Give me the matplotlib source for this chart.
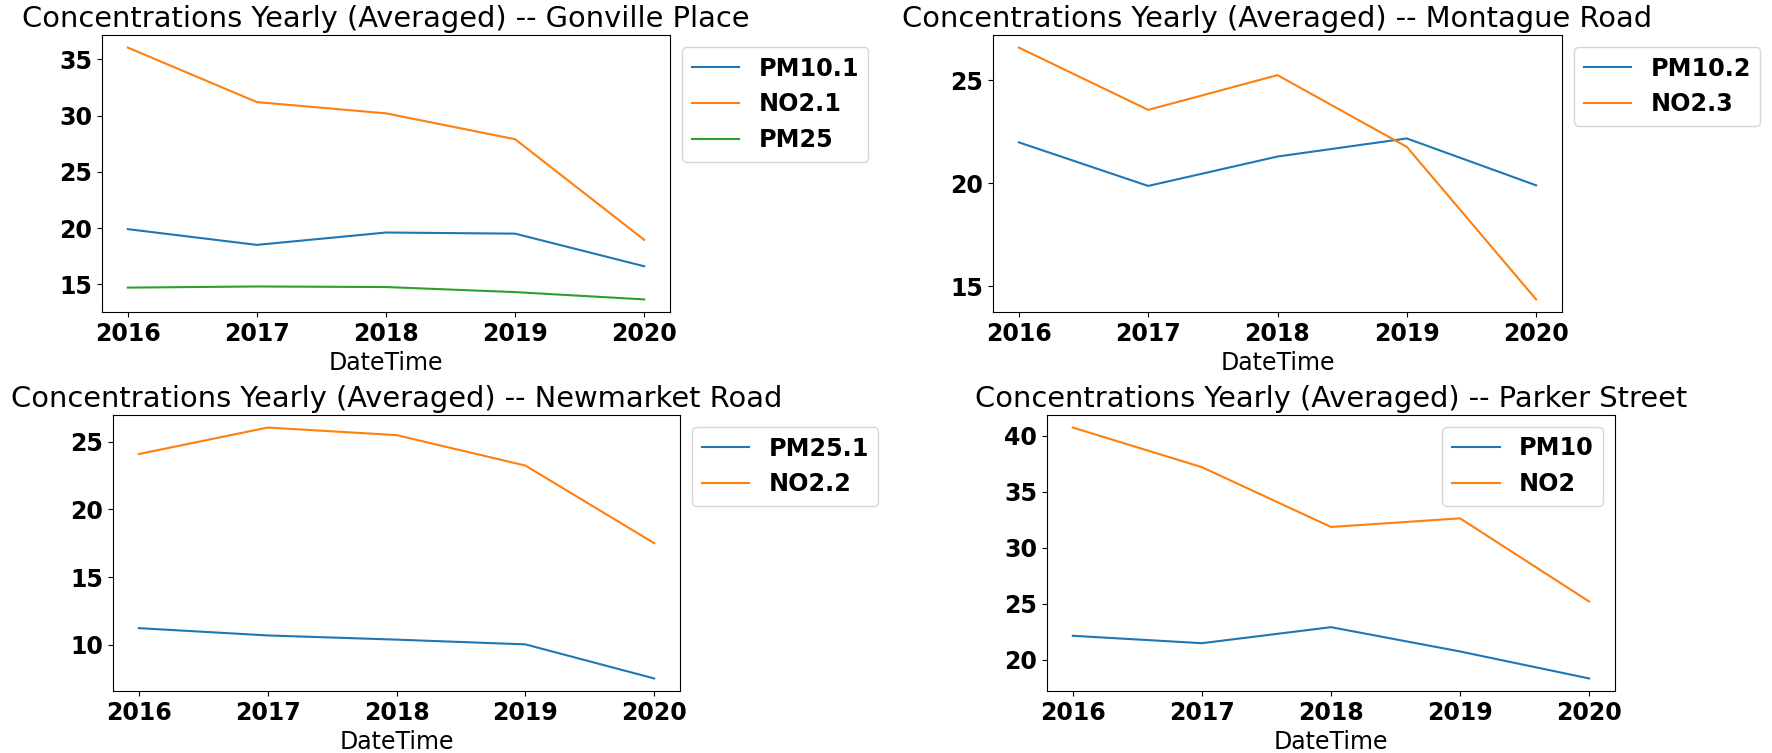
import numpy as np
import matplotlib
matplotlib.use("Agg")
import matplotlib.pyplot as plt
from matplotlib.ticker import MultipleLocator

years = [2016, 2017, 2018, 2019, 2020]

# Gonville Place
gon_pm10 = [19.9, 18.5, 19.6, 19.5, 16.6]
gon_no2 = [36.05, 31.2, 30.2, 27.9, 18.95]
gon_pm25 = [14.7, 14.8, 14.75, 14.3, 13.65]

# Montague Road
mon_pm10 = [21.99, 19.87, 21.3, 22.18, 19.9]
mon_no2 = [26.6, 23.57, 25.26, 21.77, 14.35]

# Newmarket Road
new_pm25 = [11.22, 10.68, 10.37, 10.02, 7.5]
new_no2 = [24.09, 26.05, 25.49, 23.24, 17.5]

# Parker Street
par_pm10 = [22.14, 21.48, 22.91, 20.74, 18.33]
par_no2 = [40.74, 37.2, 31.86, 32.63, 25.2]

W, H = 1772, 753
fig = plt.figure(figsize=(W / 100, H / 100), dpi=100)


def box(l, t, r, b):
    return [l / W, 1 - b / H, (r - l) / W, (b - t) / H]


def panel(rect, title, series, outside=True):
    ax = fig.add_axes(box(*rect))
    for name, vals in series:
        ax.plot(years, vals, label=name)
    ax.set_xticks(years)
    ax.yaxis.set_major_locator(MultipleLocator(5))
    ax.tick_params(labelsize=17)
    for lab in ax.get_xticklabels() + ax.get_yticklabels():
        lab.set_fontweight("bold")
    ax.set_xlabel("DateTime", fontsize=17)
    ax.set_title(title, fontsize=20.8)
    leg_font = {"size": 17.2, "weight": "bold"}
    if outside:
        ax.legend(prop=leg_font, loc="upper left", bbox_to_anchor=(1, 1))
    else:
        ax.legend(prop=leg_font, loc="upper right")
    return ax


panel((102, 35, 670, 312), "Concentrations Yearly (Averaged) -- Gonville Place",
      [("PM10.1", gon_pm10), ("NO2.1", gon_no2), ("PM25", gon_pm25)])
panel((993, 35, 1562, 312), "Concentrations Yearly (Averaged) -- Montague Road",
      [("PM10.2", mon_pm10), ("NO2.3", mon_no2)])
panel((113, 415, 680, 691), "Concentrations Yearly (Averaged) -- Newmarket Road",
      [("PM25.1", new_pm25), ("NO2.2", new_no2)])
panel((1047, 415, 1615, 691), "Concentrations Yearly (Averaged) -- Parker Street",
      [("PM10", par_pm10), ("NO2", par_no2)], outside=False)

fig.savefig("out.png", dpi=100)
